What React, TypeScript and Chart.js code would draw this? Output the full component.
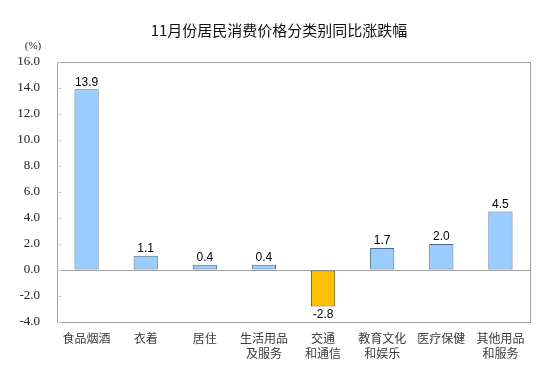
import React, { useEffect, useRef } from "react";
import { Chart, registerables } from "chart.js";

Chart.register(...registerables);

const title = "11月份居民消费价格分类别同比涨跌幅";
const unitLabel = "(%)";
const categories: string[][] = [
  ["食品烟酒"],
  ["衣着"],
  ["居住"],
  ["生活用品", "及服务"],
  ["交通", "和通信"],
  ["教育文化", "和娱乐"],
  ["医疗保健"],
  ["其他用品", "和服务"],
];
const values = [13.9, 1.1, 0.4, 0.4, -2.8, 1.7, 2.0, 4.5];
const yMin = -4;
const yMax = 16;
const yStep = 2;

const posFill = "#99ccff";
const posBorder = "#4a6a8c";
const negFill = "#ffc000";
const negBorder = "#6b5a2a";

const decorPlugin = {
  id: "decor",
  afterDraw(chart: any) {
    const { ctx, chartArea } = chart;
    const ys = chart.scales.y;
    ctx.save();
    // frame
    ctx.strokeStyle = "#a0a0a0";
    ctx.lineWidth = 1;
    ctx.strokeRect(
      Math.round(chartArea.left) + 0.5,
      Math.round(chartArea.top) + 0.5,
      Math.round(chartArea.right - chartArea.left),
      Math.round(chartArea.bottom - chartArea.top)
    );
    // inward ticks
    ctx.strokeStyle = "#c8c8c8";
    ys.ticks.forEach((t: any) => {
      const y = Math.round(ys.getPixelForValue(t.value)) + 0.5;
      ctx.beginPath();
      ctx.moveTo(chartArea.left, y);
      ctx.lineTo(chartArea.left + 4, y);
      ctx.stroke();
    });
    // title
    ctx.fillStyle = "#111";
    ctx.textAlign = "center";
    ctx.textBaseline = "middle";
    ctx.font = "15px 'Noto Sans CJK SC', sans-serif";
    ctx.fillText(title, 279, 30);
    ctx.font = "11px 'Liberation Serif', serif";
    ctx.fillStyle = "#222";
    ctx.fillText(unitLabel, 33, 46);
    // data labels
    const meta = chart.getDatasetMeta(0);
    ctx.font = "12px 'Liberation Sans', Arial, sans-serif";
    ctx.fillStyle = "#000";
    meta.data.forEach((bar: any, i: number) => {
      const v = values[i];
      if (v >= 0) {
        ctx.textBaseline = "bottom";
        ctx.fillText(v.toFixed(1), bar.x, bar.y - 1);
      } else {
        ctx.textBaseline = "top";
        ctx.fillText(v.toFixed(1), bar.x, bar.y + 2);
      }
    });
    ctx.restore();
  },
};

export default function App() {
  const ref = useRef<HTMLCanvasElement | null>(null);
  useEffect(() => {
    document.body.style.margin = "0";
    const canvas = ref.current!;
    const chart = new Chart(canvas, {
      type: "bar",
      data: {
        labels: categories,
        datasets: [
          {
            data: values,
            backgroundColor: values.map((v) => (v >= 0 ? posFill : negFill)),
            borderColor: values.map((v) => (v >= 0 ? posBorder : negBorder)),
            borderWidth: 1,
            borderSkipped: false,
            barPercentage: 0.41,
            categoryPercentage: 1,
          },
        ],
      },
      options: {
        responsive: false,
        animation: false,
        devicePixelRatio: 1,
        layout: { padding: { left: 0, right: 24, top: 62, bottom: 0 } },
        plugins: {
          legend: { display: false },
          tooltip: { enabled: false },
          title: { display: false },
        },
        scales: {
          x: {
            grid: { display: false, drawTicks: false },
            border: { display: false },
            ticks: {
              color: "#3a3a3a",
              font: { family: "'Noto Sans CJK SC', sans-serif", size: 12, lineHeight: 1.25 },
              padding: 9,
              maxRotation: 0,
              autoSkip: false,
            },
            afterFit: (s: any) => {
              s.height = 64;
            },
          },
          y: {
            min: yMin,
            max: yMax,
            ticks: {
              stepSize: yStep,
              color: "#222",
              font: { family: "'Liberation Serif', serif", size: 13 },
              padding: 17,
              callback: (v: any) => Number(v).toFixed(1),
            },
            grid: {
              drawTicks: false,
              color: (c: any) => (c.tick && c.tick.value === 0 ? "#a0a0a0" : "transparent"),
            },
            border: { display: false },
            afterFit: (s: any) => {
              s.width = 57;
            },
          },
        },
      },
      plugins: [decorPlugin],
    });
    return () => chart.destroy();
  }, []);
  return (
    <div style={{ width: 554, height: 386, background: "#fff" }}>
      <canvas ref={ref} width={554} height={386} style={{ display: "block" }} />
    </div>
  );
}
